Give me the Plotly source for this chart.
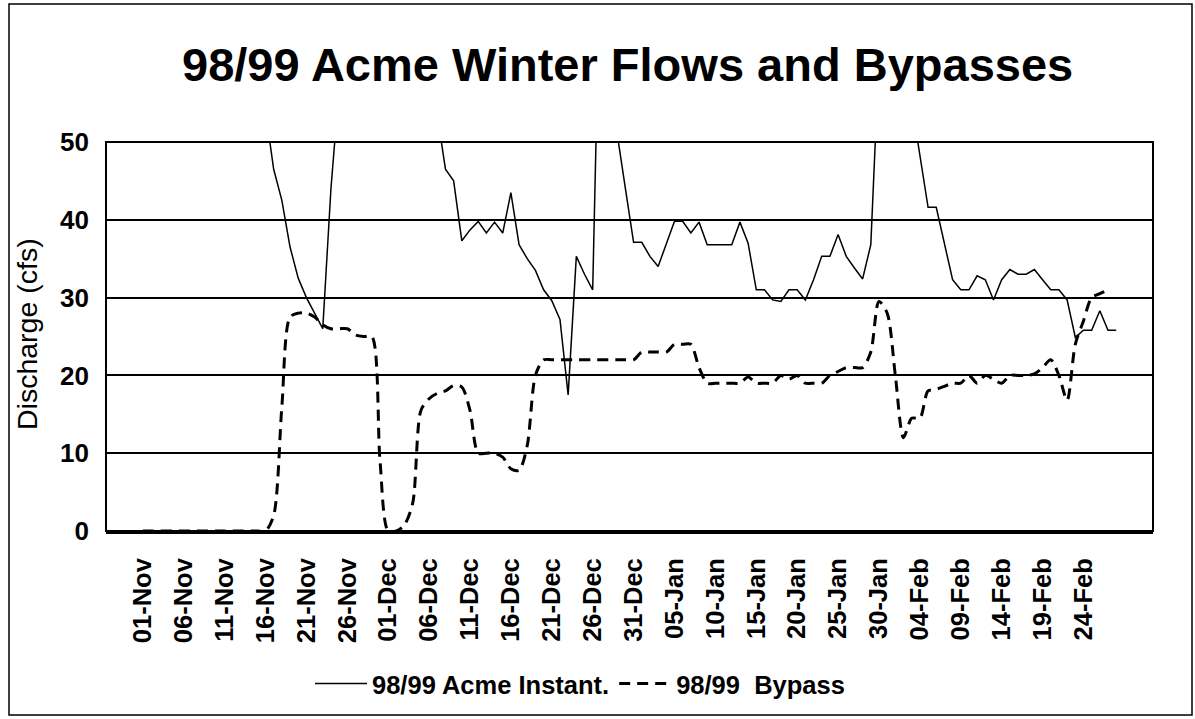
import pandas as pd
import plotly.graph_objects as go

# ---- data ----
start_date = "1998-10-28"
n_days = 128
dates = pd.date_range(start_date, periods=n_days, freq="D")

label_idx = list(range(4, 120, 5))
tick_dates = [dates[i] for i in label_idx]
tick_labels = [d.strftime("%d-%b") for d in tick_dates]

# 98/99 Acme Instant. (cfs) - index 4..123 ; values above 50 are off-chart
acme_instant = [
    None, None, None, None,
    120, 110, 105, 100, 98, 95, 92, 90, 88, 85, 80, 75, 70, 65, 60,   # 4-18
    54, 46.5, 42.5, 36.5, 32.5, 30, 28, 26, 44, 60,                    # 19-28
    70, 80, 85, 90, 88, 85, 80, 75, 70, 65, 58,                        # 29-39
    53.5, 46.5, 45, 37.3, 38.7, 39.8, 38.3, 39.7, 38.3, 43.5,          # 40-49
    36.8, 35, 33.5, 31, 29.6, 27.2, 17.5, 35.3, 33, 31,                # 50-59
    78, 70, 51, 44, 37.1, 37.1, 35.3, 34, 36.8, 39.8,                  # 60-69
    39.8, 38.3, 39.7, 36.8, 36.8, 36.8, 36.8, 39.7, 37, 31,            # 70-79
    31, 29.7, 29.5, 31, 31, 29.7, 32.3, 35.3, 35.3, 38.1,              # 80-89
    35.3, 33.8, 32.4, 36.8, 70, 85, 90, 80, 55, 48,                    # 90-99
    41.6, 41.6, 37, 32.3, 31, 31, 32.8, 32.3, 29.7, 32.3,              # 100-109
    33.6, 33, 33, 33.6, 32.3, 31, 31, 29.7, 24.9, 25.8,                # 110-119
    25.8, 28.3, 25.8, 25.8,                                            # 120-123
    None, None, None, None,
]

# 98/99 Bypass (cfs) - index 4..122
bypass = [
    None, None, None, None,
    0, 0, 0, 0, 0, 0, 0, 0, 0, 0, 0, 0, 0, 0, 0,                       # 4-18
    0, 2, 16, 27.5, 28, 28, 27.5, 26.5, 26, 26,                        # 19-28
    26, 25.2, 25, 25, 9, 0, 0, 0.8, 3.6, 15.5,                         # 29-38
    17, 17.7, 18, 18.7, 18.5, 15.5, 10, 10, 10, 9.5,                   # 39-48
    8, 7.8, 11, 20, 22, 22, 22, 22, 22, 22,                            # 49-58
    22, 22, 22, 22, 22, 22, 23, 23, 23, 23,                            # 59-68
    24, 24, 24, 21, 19, 19, 19, 19, 19, 19.8,                          # 69-78
    19, 19, 19, 20, 19.5, 20, 19, 19, 19, 20,                          # 79-88
    20.5, 21, 21, 21, 23, 29.5, 28, 20, 12, 14.5,                      # 89-98
    14.5, 18, 18.2, 18.6, 19, 19, 20, 19, 20, 19.5,                    # 99-108
    19, 20, 20, 20, 20.2, 21, 22, 20, 16.8, 24,                        # 109-118
    27, 30, 30.5, 31,                                                  # 119-122
    None, None, None, None, None,
]

# ---- figure ----
W, H = 1195, 719
ml, mr, mt, mb = 106, 42, 142, 188
pw, ph = W - ml - mr, H - mt - mb

def px_x(p):
    return (p - ml) / pw

def px_y(p):
    return (H - mb - p) / ph

FONT = "Arial, Liberation Sans, sans-serif"

fig = go.Figure()
fig.add_trace(go.Scatter(
    x=dates, y=acme_instant, mode="lines", name="98/99 Acme Instant.",
    line=dict(color="black", width=1.5), connectgaps=False,
))
fig.add_trace(go.Scatter(
    x=dates, y=bypass, mode="lines", name="98/99  Bypass",
    line=dict(color="black", width=3, dash="11px,7px", shape="spline", smoothing=0.8),
    connectgaps=False,
))

x_lo = dates[0] - pd.Timedelta(hours=12)
x_hi = dates[-1] + pd.Timedelta(hours=12)

fig.update_layout(
    width=W, height=H,
    margin=dict(l=ml, r=mr, t=mt, b=mb),
    paper_bgcolor="white", plot_bgcolor="white",
    font=dict(family=FONT, color="black"),
    showlegend=True,
    legend=dict(
        orientation="h", x=px_x(310), y=px_y(684), xanchor="left", yanchor="middle",
        font=dict(size=25.5, family=FONT, weight="bold"),
        bgcolor="rgba(0,0,0,0)", itemwidth=52, borderwidth=0,
        tracegroupgap=0,
    ),
    xaxis=dict(
        type="date", range=[x_lo, x_hi],
        tickmode="array", tickvals=tick_dates, ticktext=tick_labels,
        tickangle=-90, tickfont=dict(size=25.5, family=FONT, weight="bold"),
        showgrid=False, zeroline=False,
        showline=True, linecolor="black", linewidth=3,
        ticks="", ticklabelstandoff=14,
    ),
    yaxis=dict(
        range=[0, 50], tickmode="array", tickvals=[0, 10, 20, 30, 40, 50],
        tickfont=dict(size=26, family=FONT, weight="bold"),
        showgrid=True, gridcolor="black", gridwidth=1.5,
        zeroline=False, showline=False, ticks="", ticklabelstandoff=16,
    ),
    annotations=[
        dict(text="98/99 Acme Winter Flows and Bypasses", xref="paper", yref="paper",
             x=px_x(627), y=px_y(64), xanchor="center", yanchor="middle", showarrow=False,
             font=dict(size=47, family=FONT, weight="bold")),
        dict(text="Discharge (cfs)", xref="paper", yref="paper",
             x=px_x(27), y=px_y(334), xanchor="center", yanchor="middle", showarrow=False,
             textangle=-90, font=dict(size=28.5, family=FONT)),
    ],
    shapes=[
        dict(type="rect", xref="paper", yref="paper", x0=0, x1=1, y0=0, y1=1,
             line=dict(color="black", width=2), layer="above"),
        dict(type="rect", xref="paper", yref="paper",
             x0=px_x(9), x1=px_x(1192), y0=px_y(715), y1=px_y(4),
             line=dict(color="black", width=1.5), layer="above"),
    ],
)

fig.write_html("out.html", config={"displayModeBar": False},
               post_script="document.body.style.margin='0px';")
